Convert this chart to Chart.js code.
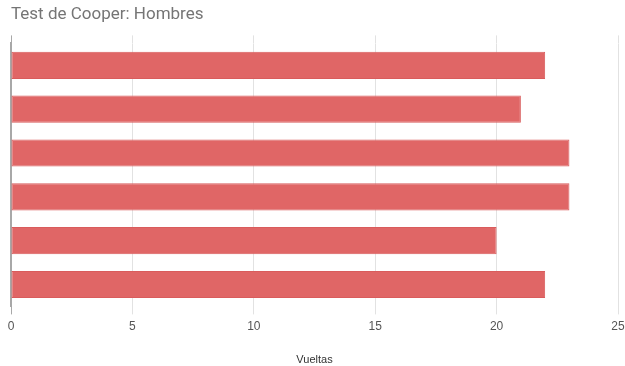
<!DOCTYPE html>
<html>
<head>
<meta charset="utf-8">
<style>
  html, body { margin: 0; padding: 0; background: #fff; }
  #wrap { width: 625px; height: 366px; }
</style>
<script src="https://cdn.jsdelivr.net/npm/chart.js@4.4.1/dist/chart.umd.min.js"></script>
</head>
<body>
<div id="wrap"><canvas id="chart" width="625" height="366"></canvas></div>
<script>
  // laps per runner (no names shown on the axis)
  const runners = ["1", "2", "3", "4", "5", "6"];
  const laps = [22, 21, 23, 23, 20, 22];
  const xTicks = [0, 5, 10, 15, 20, 25];

  const gridColor = (c) => (c.tick && c.tick.value === 0 ? "#a8a8a8" : "#e2e2e2");

  const ctx = document.getElementById("chart").getContext("2d");
  const chart = new Chart(ctx, {
    type: "bar",
    data: {
      labels: runners,
      datasets: [{
        label: "Vueltas",
        data: laps,
        backgroundColor: "#e06666",
        borderColor: "#d95c5c",
        borderWidth: 1,
        borderSkipped: false,
        categoryPercentage: 1,
        barPercentage: 0.62
      }]
    },
    options: {
      indexAxis: "y",
      responsive: false,
      animation: false,
      layout: { padding: { left: 11, right: 0, top: 0, bottom: -1 } },
      plugins: {
        legend: { display: false },
        tooltip: { enabled: false },
        title: {
          display: true,
          text: "Test de Cooper: Hombres",
          align: "start",
          color: "#757575",
          font: { family: "Roboto, Arial, sans-serif", size: 17, weight: "normal" },
          padding: { top: 5, bottom: 10 }
        }
      },
      scales: {
        x: {
          type: "linear",
          min: 0,
          max: 25,
          afterBuildTicks: (s) => { s.ticks = xTicks.map(v => ({ value: v })); },
          // let the last label "25" run off the right edge a little
          afterFit: (s) => { s.paddingRight = 7; },
          grid: { color: gridColor, lineWidth: 1, tickLength: 8 },
          border: { display: false },
          ticks: {
            color: "#555",
            padding: 5,
            font: { family: "Arial, 'Liberation Sans', sans-serif", size: 12 }
          },
          title: {
            display: true,
            text: "Vueltas",
            color: "#333",
            padding: { top: 15, bottom: 0 },
            font: { family: "Arial, 'Liberation Sans', sans-serif", size: 11 }
          }
        },
        // top copy of the value axis, only to run the grid lines a little above the bars
        xTop: {
          type: "linear",
          position: "top",
          min: 0,
          max: 25,
          afterBuildTicks: (s) => { s.ticks = xTicks.map(v => ({ value: v })); },
          grid: { color: gridColor, drawOnChartArea: false, tickLength: 8 },
          border: { display: false },
          ticks: { display: false }
        },
        y: {
          grid: { display: false, drawTicks: false },
          border: { display: true, color: "#a8a8a8", width: 2 },
          ticks: { display: false }
        }
      }
    }
  });
</script>
</body>
</html>
